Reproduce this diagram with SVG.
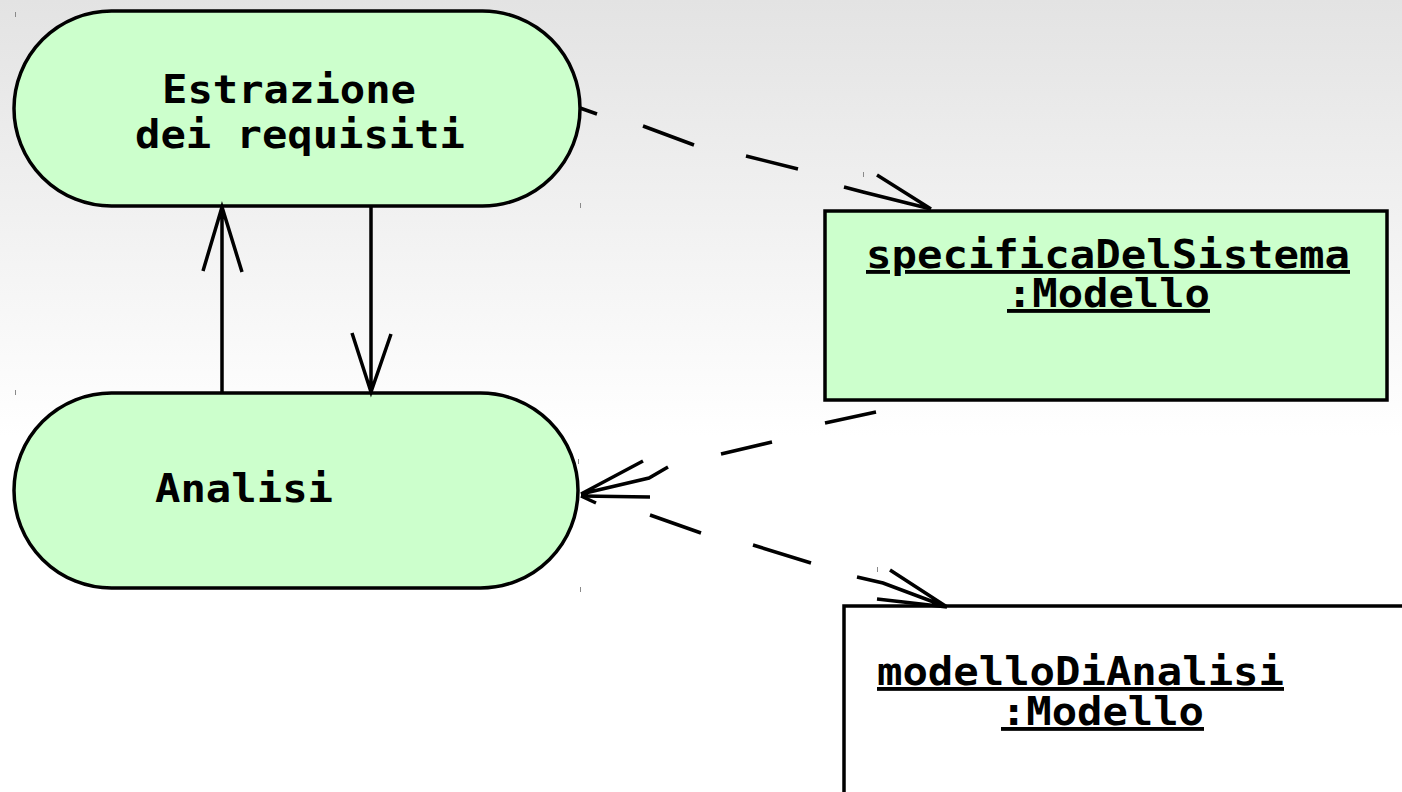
<svg xmlns="http://www.w3.org/2000/svg" width="1402" height="792" viewBox="0 0 1402 792">
  <defs>
    <linearGradient id="bg" x1="0" y1="0" x2="0" y2="792" gradientUnits="userSpaceOnUse">
      <stop offset="0" stop-color="#e3e3e3"/>
      <stop offset="0.55" stop-color="#ffffff"/>
      <stop offset="1" stop-color="#ffffff"/>
    </linearGradient>
    <style>
      .shape { stroke: #000; stroke-width: 3.5; }
      .activity { fill: #ccffcc; }
      .obj-green { fill: #ccffcc; }
      .obj-white { fill: #ffffff; }
      .label { font-family: "DejaVu Sans Mono", "Liberation Mono", monospace; font-weight: bold; font-size: 38.5px; fill: #000; }
      .ul { text-decoration: underline; }
      .flow { fill: none; stroke: #000; stroke-width: 3.5; stroke-linecap: butt; stroke-linejoin: miter; }
      .tick { stroke: #8a8a8a; stroke-width: 1; }
    </style>
  </defs>

  <rect x="0" y="0" width="1402" height="792" fill="url(#bg)"/>

  <!-- small corner marks of the element bounds -->
  <g id="marks">
    <line class="tick" x1="15.5" y1="12" x2="15.5" y2="17"/>
    <line class="tick" x1="580.5" y1="203" x2="580.5" y2="208"/>
    <line class="tick" x1="863.5" y1="172" x2="863.5" y2="177"/>
    <line class="tick" x1="15.5" y1="390" x2="15.5" y2="395"/>
    <line class="tick" x1="578.5" y1="459" x2="578.5" y2="464"/>
    <line class="tick" x1="580.5" y1="587" x2="580.5" y2="592"/>
    <line class="tick" x1="877.5" y1="567" x2="877.5" y2="572"/>
  </g>

  <g id="node-estrazione">
    <rect class="shape activity" x="14" y="11" width="566" height="195" rx="97.5" ry="97.5"/>
    <text class="label" x="162" y="103" textLength="254" lengthAdjust="spacingAndGlyphs">Estrazione</text>
    <text class="label" x="135" y="148" textLength="330" lengthAdjust="spacingAndGlyphs">dei requisiti</text>
  </g>

  <g id="node-analisi">
    <rect class="shape activity" x="14" y="393" width="564" height="195" rx="97.5" ry="97.5"/>
    <text class="label" x="155" y="502" textLength="178" lengthAdjust="spacingAndGlyphs">Analisi</text>
  </g>

  <g id="node-specifica">
    <rect class="shape obj-green" x="825" y="211" width="562" height="189"/>
    <text class="label ul" x="866" y="268" textLength="484" lengthAdjust="spacingAndGlyphs">specificaDelSistema</text>
    <text class="label ul" x="1007" y="307" textLength="203" lengthAdjust="spacingAndGlyphs">:Modello</text>
  </g>

  <g id="node-modello-analisi">
    <rect class="shape obj-white" x="844" y="606" width="620" height="260"/>
    <text class="label ul" x="877" y="685" textLength="407" lengthAdjust="spacingAndGlyphs">modelloDiAnalisi</text>
    <text class="label ul" x="1001" y="725" textLength="203" lengthAdjust="spacingAndGlyphs">:Modello</text>
  </g>

  <g id="connectors">
    <!-- control flow: Analisi -> Estrazione -->
    <path class="flow" d="M222 393 L222 207 M203 271 L222 207 L242 272"/>
    <!-- control flow: Estrazione -> Analisi -->
    <path class="flow" d="M371 206 L371 392 M352 333 L371 392 L391 334"/>
    <!-- object flow: Estrazione -> specificaDelSistema -->
    <path class="flow" d="M580 108 L597 114 M643 126 L694 145 M746 156 L798 169 M844 187 L863 192 L931 209 M877 175 L931 209"/>
    <!-- object flow: specificaDelSistema -> Analisi -->
    <path class="flow" d="M876 412 L825 423 M772 442 L721 454 M668 467 L649 478 L581 494 M643 461 L581 494 M650 497 L581 496"/>
    <!-- object flow: Analisi -> modelloDiAnalisi -->
    <path class="flow" d="M581 496 L596 503 M650 515 L701 533 M753 545 L811 563 M857 577 L883 583 L947 607 M890 570 L947 607 M877 599 L947 607"/>
  </g>
</svg>
